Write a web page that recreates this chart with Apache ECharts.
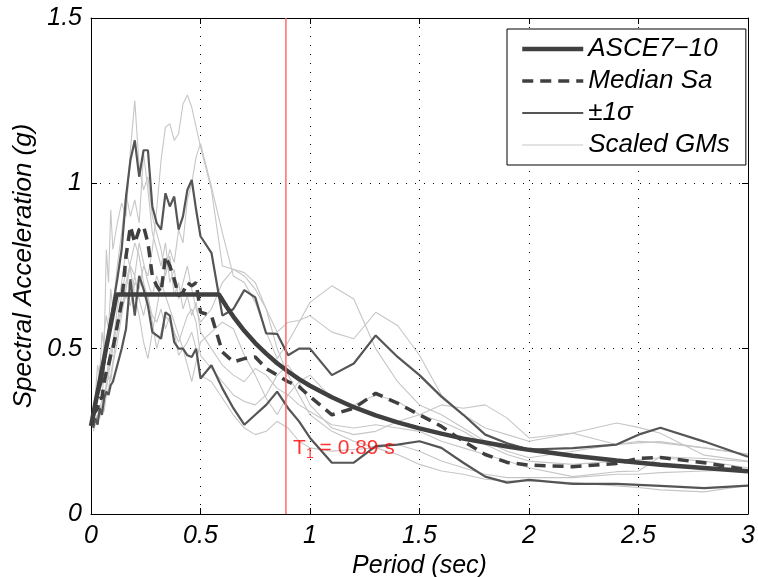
<!DOCTYPE html>
<html><head><meta charset="utf-8">
<script src="https://cdn.jsdelivr.net/npm/echarts@6.0.0/dist/echarts.min.js"></script>
<style>html,body{margin:0;padding:0;background:#fff}#c{width:758px;height:577px}</style>
</head><body><div id="c"></div>
<script>
// Periods (s)
const periods = [0.01,0.02,0.03,0.04,0.05,0.06,0.07,0.08,0.09,0.1,
 0.12,0.14,0.16,0.18,0.2,0.22,0.24,0.26,0.28,0.3,
 0.32,0.34,0.36,0.38,0.4,0.42,0.44,0.46,0.48,0.5,
 0.55,0.6,0.65,0.7,0.75,0.8,0.85,0.9,0.95,
 1.0,1.1,1.2,1.3,1.4,1.5,1.6,1.7,1.8,1.9,2.0,
 2.2,2.4,2.5,2.6,2.8,3.0];

const medianSa = [0.30,0.31,0.32,0.35,0.35,0.40,0.43,0.45,0.48,0.50,
 0.57,0.64,0.78,0.87,0.82,0.86,0.87,0.82,0.72,0.69,
 0.67,0.78,0.75,0.71,0.66,0.67,0.70,0.69,0.70,0.61,
 0.60,0.49,0.46,0.47,0.475,0.44,0.42,0.40,0.385,
 0.355,0.30,0.32,0.365,0.335,0.30,0.265,0.22,0.18,0.156,0.148,
 0.143,0.153,0.168,0.171,0.155,0.133];

const plusSigma = [0.31,0.33,0.36,0.38,0.40,0.45,0.50,0.55,0.59,0.63,
 0.71,0.80,0.96,1.07,1.13,1.02,1.10,1.10,0.93,0.88,
 0.86,0.97,0.93,0.96,0.86,0.90,0.98,1.01,0.92,0.84,
 0.79,0.60,0.62,0.677,0.655,0.546,0.545,0.48,0.50,
 0.50,0.42,0.455,0.54,0.475,0.42,0.355,0.30,0.24,0.214,0.195,
 0.199,0.21,0.24,0.261,0.219,0.173];

const minusSigma = [0.26,0.29,0.27,0.32,0.30,0.35,0.37,0.36,0.39,0.40,
 0.45,0.50,0.56,0.71,0.60,0.72,0.68,0.63,0.55,0.54,
 0.53,0.61,0.60,0.52,0.50,0.50,0.48,0.475,0.50,0.41,
 0.45,0.38,0.32,0.27,0.30,0.33,0.37,0.32,0.28,
 0.23,0.155,0.155,0.205,0.21,0.22,0.20,0.155,0.113,0.095,0.103,
 0.091,0.091,0.088,0.085,0.078,0.086];

const gm1 = [0.30,0.32,0.35,0.38,0.36,0.42,0.40,0.47,0.50,0.52,
 0.58,0.62,0.66,0.63,0.70,0.68,0.75,0.72,0.80,0.92,
 1.07,1.17,1.18,1.13,1.15,1.24,1.267,1.23,1.17,1.11,
 0.98,0.75,0.74,0.72,0.68,0.62,0.55,0.58,0.585,
 0.60,0.55,0.53,0.61,0.57,0.48,0.36,0.30,0.26,0.24,0.22,
 0.244,0.21,0.215,0.219,0.20,0.181];
const gm2 = [0.33,0.36,0.45,0.42,0.55,0.50,0.80,0.70,0.92,0.80,
 0.88,0.94,0.90,1.10,1.25,1.05,0.98,1.02,0.90,0.85,
 0.80,0.72,0.78,0.66,0.70,0.62,0.66,0.60,0.64,0.55,
 0.50,0.45,0.42,0.40,0.44,0.42,0.38,0.36,0.33,
 0.31,0.27,0.26,0.27,0.26,0.25,0.22,0.20,0.18,0.16,0.14,
 0.113,0.128,0.13,0.173,0.168,0.158];
const gm3 = [0.28,0.30,0.29,0.33,0.31,0.36,0.38,0.42,0.40,0.45,
 0.52,0.60,0.68,0.75,0.72,0.82,0.76,0.70,0.66,0.72,
 0.68,0.74,0.80,0.76,0.86,0.82,0.95,1.00,1.08,1.12,
 0.99,0.85,0.72,0.70,0.64,0.55,0.47,0.52,0.58,
 0.64,0.69,0.65,0.50,0.40,0.33,0.30,0.26,0.22,0.19,0.17,
 0.19,0.21,0.22,0.215,0.20,0.18];
const gm4 = [0.27,0.28,0.30,0.29,0.33,0.35,0.40,0.44,0.48,0.52,
 0.62,0.70,0.80,0.74,0.66,0.60,0.52,0.47,0.55,0.62,
 0.70,0.66,0.62,0.58,0.54,0.50,0.45,0.40,0.46,0.52,
 0.55,0.58,0.56,0.48,0.42,0.35,0.30,0.36,0.40,
 0.42,0.35,0.33,0.36,0.34,0.30,0.28,0.25,0.21,0.18,0.16,
 0.15,0.16,0.165,0.17,0.16,0.14];
const gm5 = [0.31,0.33,0.38,0.45,0.42,0.55,0.60,0.56,0.68,0.62,
 0.75,0.85,0.97,0.90,0.95,0.88,1.09,0.98,0.85,0.80,
 0.75,0.82,0.70,0.74,0.65,0.70,0.75,0.68,0.62,0.58,
 0.62,0.70,0.74,0.73,0.70,0.62,0.50,0.42,0.36,
 0.30,0.25,0.22,0.20,0.21,0.19,0.16,0.14,0.12,0.11,0.11,
 0.11,0.12,0.12,0.125,0.13,0.133];
const gm6 = [0.25,0.27,0.28,0.30,0.32,0.31,0.36,0.38,0.42,0.46,
 0.55,0.62,0.70,0.76,0.82,0.78,0.70,0.65,0.60,0.58,
 0.62,0.56,0.60,0.55,0.52,0.56,0.60,0.62,0.58,0.48,
 0.44,0.40,0.36,0.34,0.33,0.36,0.42,0.45,0.40,
 0.33,0.26,0.24,0.25,0.28,0.30,0.33,0.32,0.33,0.29,0.23,
 0.245,0.275,0.262,0.244,0.178,0.16];
const gm7 = [0.26,0.28,0.27,0.31,0.35,0.33,0.38,0.42,0.46,0.50,
 0.58,0.66,0.74,0.66,0.72,0.65,0.60,0.66,0.58,0.50,
 0.55,0.60,0.58,0.55,0.48,0.50,0.52,0.55,0.50,0.42,
 0.40,0.35,0.30,0.26,0.24,0.25,0.28,0.26,0.22,
 0.20,0.19,0.195,0.20,0.18,0.15,0.13,0.12,0.105,0.10,0.10,
 0.095,0.085,0.08,0.073,0.067,0.086];

// ASCE 7-10 design spectrum
const ascePeriods = [0,0.117,0.584,0.62,0.65,0.7,0.75,0.8,0.85,0.9,0.95,1.0,1.1,1.2,1.3,1.4,1.5,1.6,1.7,1.8,1.9,2.0,2.2,2.4,2.6,2.8,3.0];
const asceSa = [0.266,0.664,0.664,0.626,0.597,0.554,0.517,0.485,0.456,0.431,0.408,0.388,0.353,0.323,0.298,0.277,0.259,0.243,0.228,0.216,0.204,0.194,0.176,0.162,0.149,0.139,0.129];

const T1 = 0.89;
const t1LabelAt = [0.9, 0.2];
const xTicks = [0, 0.5, 1, 1.5, 2, 2.5, 3];
const yTicks = [0, 0.5, 1, 1.5];

const FONT = '"Liberation Sans", Arial, Helvetica, sans-serif';
const pairs = (xs, ys) => xs.map((x, i) => [x, ys[i]]);
const gms = [gm1, gm2, gm3, gm4, gm5, gm6, gm7];

const STY = {
  asce: { color: '#404040', width: 4.5 },
  median: { color: '#3f3f3f', width: 3.5, type: [11, 7] },
  sigma: { color: '#555555', width: 2.2 },
  gm: { color: '#c6c6c6', width: 1.1 }
};

const series = [];
gms.forEach(g => series.push({
  type: 'line', name: 'Scaled GMs', data: pairs(periods, g), symbol: 'none', z: 2,
  lineStyle: STY.gm, itemStyle: { color: STY.gm.color }
}));
[plusSigma, minusSigma].forEach(s => series.push({
  type: 'line', name: '±1σ', data: pairs(periods, s), symbol: 'none', z: 3,
  lineStyle: STY.sigma, itemStyle: { color: STY.sigma.color }
}));
series.push({
  type: 'line', name: 'Median Sa', data: pairs(periods, medianSa), symbol: 'none', z: 4,
  lineStyle: STY.median, itemStyle: { color: STY.median.color }
});
series.push({
  type: 'line', name: 'ASCE7−10', data: pairs(ascePeriods, asceSa), symbol: 'none', z: 5,
  lineStyle: STY.asce, itemStyle: { color: STY.asce.color }
});
series.push({
  type: 'line', name: 'T1', data: [[T1, yTicks[0]], [T1, yTicks[yTicks.length - 1]]], symbol: 'none', z: 6,
  lineStyle: { color: '#ff6a6a', width: 1.5 }, itemStyle: { color: '#ff6a6a' }
});
series.push({
  type: 'scatter', name: 'T1label', data: [t1LabelAt], symbolSize: 0, z: 7,
  label: {
    show: true, position: 'right', distance: 5,
    formatter: '{a|T}{s|1}{a| = ' + T1 + ' s}',
    rich: {
      a: { fontFamily: FONT, fontSize: 21, color: '#ff0000' },
      s: { fontFamily: FONT, fontSize: 14, color: '#ff0000', padding: [12, 0, 0, 0] }
    }
  }
});

const axisCommon = {
  type: 'value',
  axisLine: { show: true, onZero: false, lineStyle: { color: '#000', width: 1 } },
  axisTick: { show: true, inside: true, length: 6, lineStyle: { color: '#000', width: 1 } },
  minorTick: { show: false }
};

const legendItem = (name, st) => ({ name: name, lineStyle: Object.assign({}, st), itemStyle: { opacity: 0, borderWidth: 0 } });

const option = {
  animation: false,
  backgroundColor: '#fff',
  grid: { left: 91, right: 10, top: 18, bottom: 63, containLabel: false, outerBoundsMode: 'none' },
  legend: {
    data: [legendItem('ASCE7−10', STY.asce), legendItem('Median Sa', STY.median),
           legendItem('±1σ', STY.sigma), legendItem('Scaled GMs', STY.gm)],
    orient: 'vertical', left: 507, top: 29,
    padding: [7, 16, 7, 13],
    backgroundColor: '#fff', borderColor: '#000', borderWidth: 1, borderRadius: 0,
    itemWidth: 61, itemHeight: 20, itemGap: 6,
    itemStyle: { opacity: 0, borderWidth: 0 },
    textStyle: { fontFamily: FONT, fontStyle: 'italic', fontSize: 26, color: '#000', lineHeight: 26 }
  },
  xAxis: [
    Object.assign({}, axisCommon, {
      min: xTicks[0], max: xTicks[xTicks.length - 1], interval: 0.5, position: 'bottom',
      name: 'Period (sec)', nameLocation: 'middle', nameGap: 40,
      nameTextStyle: { fontFamily: FONT, fontStyle: 'italic', fontSize: 25, color: '#000' },
      axisLabel: { fontFamily: FONT, fontStyle: 'italic', fontSize: 25, color: '#000', margin: 10 },
      splitLine: { show: true, lineStyle: { color: '#000', width: 1, type: [1, 8] } }
    }),
    Object.assign({}, axisCommon, {
      min: xTicks[0], max: xTicks[xTicks.length - 1], interval: 0.5, position: 'top',
      axisLabel: { show: false }, splitLine: { show: false }
    })
  ],
  yAxis: [
    Object.assign({}, axisCommon, {
      min: yTicks[0], max: yTicks[yTicks.length - 1], interval: 0.5, position: 'left',
      name: 'Spectral Acceleration (g)', nameLocation: 'middle', nameGap: 50,
      nameTextStyle: { fontFamily: FONT, fontStyle: 'italic', fontSize: 26, color: '#000' },
      axisLabel: { fontFamily: FONT, fontStyle: 'italic', fontSize: 25, color: '#000', margin: 9 },
      splitLine: { show: true, lineStyle: { color: '#000', width: 1, type: [1, 8] } }
    }),
    Object.assign({}, axisCommon, {
      min: yTicks[0], max: yTicks[yTicks.length - 1], interval: 0.5, position: 'right',
      axisLabel: { show: false }, splitLine: { show: false }
    })
  ],
  series: series
};
const chart = echarts.init(document.getElementById('c'), null, { renderer: 'canvas' });
chart.setOption(option);
</script>
</body></html>
